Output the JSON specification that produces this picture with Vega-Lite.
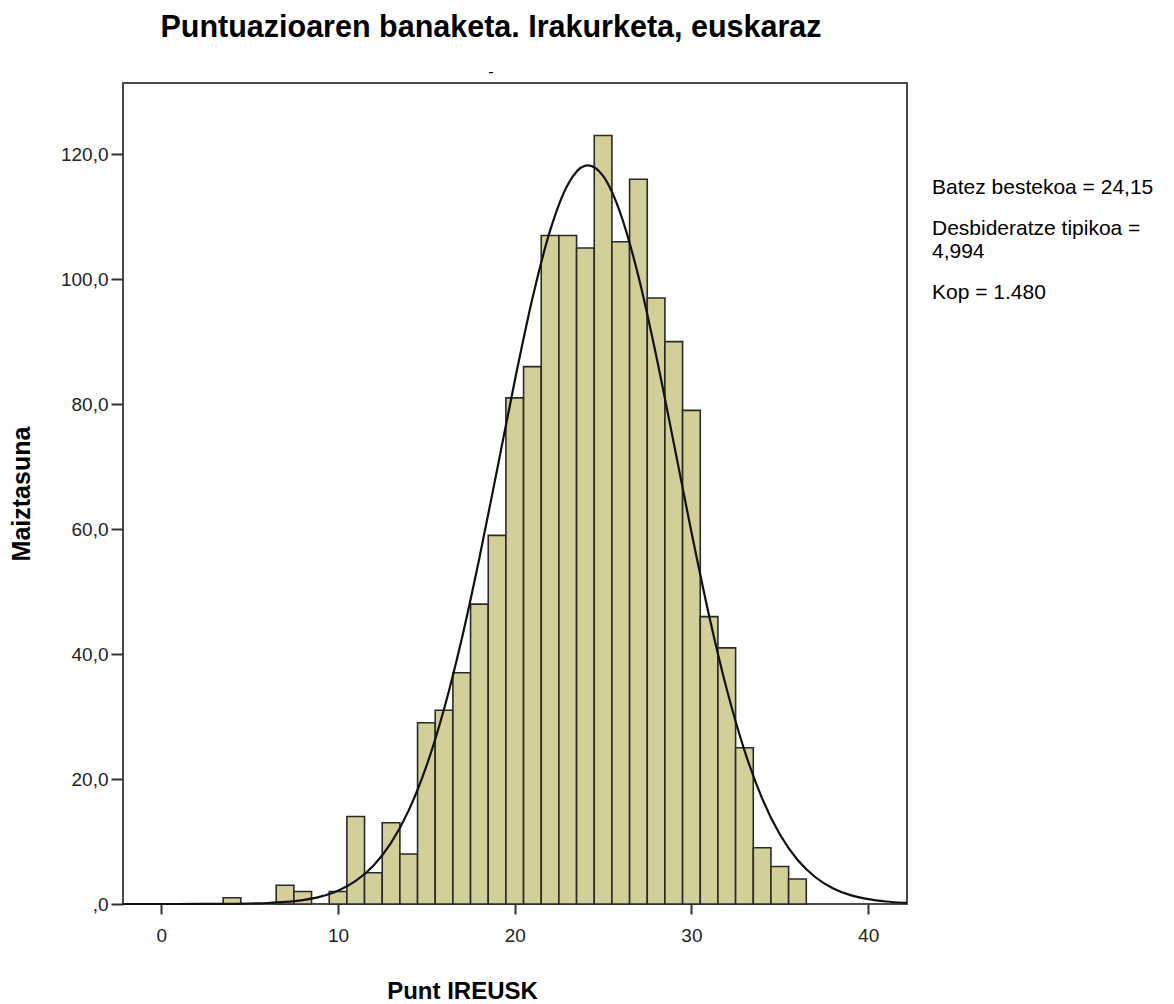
{
  "$schema": "https://vega.github.io/schema/vega-lite/v6.json",
  "width": 784,
  "height": 821,
  "autosize": "none",
  "padding": {"left": 123, "top": 83, "right": 267, "bottom": 100},
  "background": "white",
  "title": {
    "text": "Puntuazioaren banaketa. Irakurketa, euskaraz",
    "subtitle": "-",
    "anchor": "middle",
    "dx": -24,
    "offset": 3,
    "font": "Liberation Sans",
    "fontSize": 30.5,
    "fontWeight": "bold",
    "color": "#000000",
    "subtitleFont": "Liberation Sans",
    "subtitleFontSize": 16,
    "subtitleColor": "#000000",
    "subtitlePadding": 21
  },
  "config": {
    "view": {"fill": "#f0f0f0", "stroke": "#4a4a4a", "strokeWidth": 2},
    "font": "Liberation Sans"
  },
  "datasets": {
    "bars": [
      {"lo": 3.5, "hi": 4.5, "count": 1},
      {"lo": 6.5, "hi": 7.5, "count": 3},
      {"lo": 7.5, "hi": 8.5, "count": 2},
      {"lo": 9.5, "hi": 10.5, "count": 2},
      {"lo": 10.5, "hi": 11.5, "count": 14},
      {"lo": 11.5, "hi": 12.5, "count": 5},
      {"lo": 12.5, "hi": 13.5, "count": 13},
      {"lo": 13.5, "hi": 14.5, "count": 8},
      {"lo": 14.5, "hi": 15.5, "count": 29},
      {"lo": 15.5, "hi": 16.5, "count": 31},
      {"lo": 16.5, "hi": 17.5, "count": 37},
      {"lo": 17.5, "hi": 18.5, "count": 48},
      {"lo": 18.5, "hi": 19.5, "count": 59},
      {"lo": 19.5, "hi": 20.5, "count": 81},
      {"lo": 20.5, "hi": 21.5, "count": 86},
      {"lo": 21.5, "hi": 22.5, "count": 107},
      {"lo": 22.5, "hi": 23.5, "count": 107},
      {"lo": 23.5, "hi": 24.5, "count": 105},
      {"lo": 24.5, "hi": 25.5, "count": 123},
      {"lo": 25.5, "hi": 26.5, "count": 106},
      {"lo": 26.5, "hi": 27.5, "count": 116},
      {"lo": 27.5, "hi": 28.5, "count": 97},
      {"lo": 28.5, "hi": 29.5, "count": 90},
      {"lo": 29.5, "hi": 30.5, "count": 79},
      {"lo": 30.5, "hi": 31.5, "count": 46},
      {"lo": 31.5, "hi": 32.5, "count": 41},
      {"lo": 32.5, "hi": 33.5, "count": 25},
      {"lo": 33.5, "hi": 34.5, "count": 9},
      {"lo": 34.5, "hi": 35.5, "count": 6},
      {"lo": 35.5, "hi": 36.5, "count": 4}
    ],
    "curve": [
      {"x": -2.17, "y": 0.0001},
      {"x": 0, "y": 0.001},
      {"x": 2, "y": 0.006},
      {"x": 4, "y": 0.035},
      {"x": 5, "y": 0.076},
      {"x": 6, "y": 0.16},
      {"x": 7, "y": 0.325},
      {"x": 8, "y": 0.634},
      {"x": 9, "y": 1.187},
      {"x": 10, "y": 2.135},
      {"x": 11, "y": 3.69},
      {"x": 12, "y": 6.13},
      {"x": 13, "y": 9.78},
      {"x": 14, "y": 14.98},
      {"x": 15, "y": 22.06},
      {"x": 16, "y": 31.22},
      {"x": 17, "y": 42.43},
      {"x": 18, "y": 55.39},
      {"x": 19, "y": 69.47},
      {"x": 20, "y": 83.71},
      {"x": 21, "y": 96.9},
      {"x": 22, "y": 107.77},
      {"x": 23, "y": 115.13},
      {"x": 24, "y": 118.18},
      {"x": 24.15, "y": 118.23},
      {"x": 25, "y": 116.53},
      {"x": 26, "y": 110.39},
      {"x": 27, "y": 100.46},
      {"x": 28, "y": 87.83},
      {"x": 29, "y": 73.78},
      {"x": 30, "y": 59.53},
      {"x": 31, "y": 46.15},
      {"x": 32, "y": 34.37},
      {"x": 33, "y": 24.59},
      {"x": 34, "y": 16.91},
      {"x": 35, "y": 11.16},
      {"x": 36, "y": 7.08},
      {"x": 37, "y": 4.32},
      {"x": 38, "y": 2.53},
      {"x": 39, "y": 1.42},
      {"x": 40, "y": 0.768},
      {"x": 41, "y": 0.399},
      {"x": 42, "y": 0.199},
      {"x": 42.2, "y": 0.172}
    ],
    "stats": [
      {"label": "Batez bestekoa = 24,15"},
      {"label": "Desbideratze tipikoa =|4,994"},
      {"label": "Kop = 1.480"}
    ]
  },
  "layer": [
    {
      "data": {"name": "bars"},
      "mark": {"type": "bar", "fill": "#d3cf98", "stroke": "#2a2a2a", "strokeWidth": 1.6, "orient": "vertical"},
      "encoding": {
        "x": {
          "field": "lo",
          "type": "quantitative",
          "scale": {"domain": [-2.17, 42.2], "nice": false, "zero": false, "padding": 0},
          "axis": {
            "values": [0, 10, 20, 30, 40],
            "title": "Punt IREUSK",
            "titleFont": "Liberation Sans",
            "titleFontSize": 24,
            "titleFontWeight": "bold",
            "titleColor": "#000000",
            "titleX": 339,
            "titlePadding": 34,
            "labelFont": "Liberation Sans",
            "labelFontSize": 19,
            "labelColor": "#222222",
            "labelPadding": 12,
            "domain": false,
            "grid": false,
            "tickSize": 10,
            "tickWidth": 2,
            "tickColor": "#333333"
          }
        },
        "x2": {"field": "hi"},
        "y": {
          "field": "count",
          "type": "quantitative",
          "scale": {"domain": [0, 131.4], "nice": false, "padding": 0},
          "axis": {
            "values": [0, 20, 40, 60, 80, 100, 120],
            "labelExpr": "datum.value == 0 ? ',0' : replace(format(datum.value, '.1f'), '.', ',')",
            "title": "Maiztasuna",
            "titleFont": "Liberation Sans",
            "titleFontSize": 25,
            "titleFontWeight": "bold",
            "titleColor": "#000000",
            "titlePadding": 26,
            "labelFont": "Liberation Sans",
            "labelFontSize": 19,
            "labelColor": "#222222",
            "labelPadding": 3,
            "domain": false,
            "grid": false,
            "tickSize": 12,
            "tickWidth": 2,
            "tickColor": "#333333"
          }
        },
        "y2": {"datum": 0}
      }
    },
    {
      "data": {"name": "curve"},
      "mark": {"type": "line", "color": "#111111", "strokeWidth": 2.2, "interpolate": "monotone"},
      "encoding": {
        "x": {"field": "x", "type": "quantitative"},
        "y": {"field": "y", "type": "quantitative"}
      }
    },
    {
      "data": {"name": "stats"},
      "mark": {"type": "point", "opacity": 0, "size": 0},
      "encoding": {
        "color": {
          "field": "label",
          "type": "nominal",
          "scale": {"range": ["transparent", "transparent", "transparent"]},
          "sort": null,
          "legend": {
            "title": null,
            "orient": "none",
            "legendX": 788,
            "legendY": 94,
            "symbolSize": 0,
            "symbolOpacity": 0,
            "symbolStrokeWidth": 0,
            "labelOffset": 0,
            "labelFont": "Liberation Sans",
            "labelFontSize": 21,
            "labelColor": "#000000",
            "labelLimit": 400,
            "rowPadding": 19,
            "labelExpr": "split(datum.label, '|')"
          }
        }
      }
    }
  ]
}
